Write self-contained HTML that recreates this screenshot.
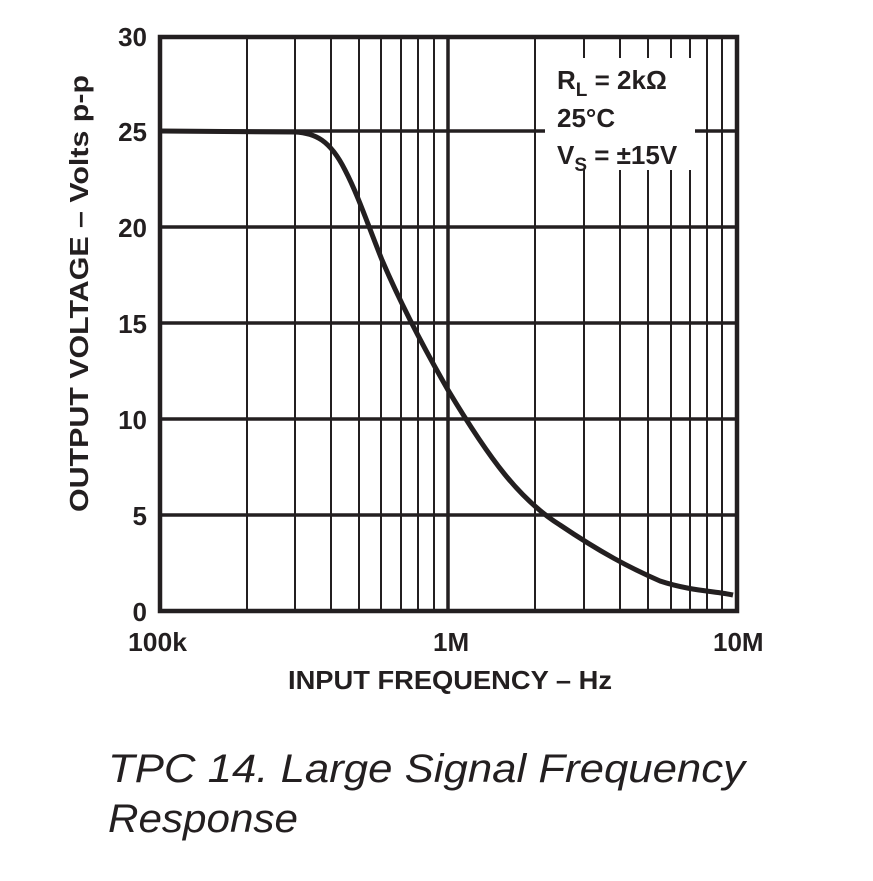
<!DOCTYPE html>
<html><head><style>
body{margin:0;background:#fff;}
svg{display:block;}
</style></head><body>
<svg width="873" height="881" viewBox="0 0 873 881" xmlns="http://www.w3.org/2000/svg">
<g stroke="#231f20" fill="none">
<g stroke-width="2">
<line x1="247" y1="36" x2="247" y2="611"/><line x1="295" y1="36" x2="295" y2="611"/>
<line x1="331" y1="36" x2="331" y2="611"/><line x1="359" y1="36" x2="359" y2="611"/>
<line x1="381" y1="36" x2="381" y2="611"/><line x1="401" y1="36" x2="401" y2="611"/>
<line x1="418" y1="36" x2="418" y2="611"/><line x1="434" y1="36" x2="434" y2="611"/>
<line x1="535" y1="36" x2="535" y2="611"/><line x1="584" y1="36" x2="584" y2="611"/>
<line x1="620" y1="36" x2="620" y2="611"/><line x1="648" y1="36" x2="648" y2="611"/>
<line x1="671" y1="36" x2="671" y2="611"/><line x1="690" y1="36" x2="690" y2="611"/>
<line x1="707" y1="36" x2="707" y2="611"/><line x1="722" y1="36" x2="722" y2="611"/>
</g>
<line x1="448" y1="36" x2="448" y2="611" stroke-width="3.5"/>
<g stroke-width="3.5">
<line x1="160" y1="131" x2="737" y2="131"/><line x1="160" y1="227" x2="737" y2="227"/>
<line x1="160" y1="323" x2="737" y2="323"/><line x1="160" y1="419" x2="737" y2="419"/>
<line x1="160" y1="515" x2="737" y2="515"/>
</g>
<rect x="545" y="58" width="150" height="112" fill="#fff" stroke="none"/>
<rect x="160" y="37" width="577" height="574" stroke-width="4.5"/>
<path d="M160,131 L295,132 C315,133 330,140 345,170 C358,195 368,225 382,260 C400,302 425,350 448,390 C490,460 520,500 560,525 C600,552 630,568 660,581 C690,591 715,591 733,595" stroke-width="5"/>
</g>
<g font-family="Liberation Sans, sans-serif" font-weight="bold" font-size="26" fill="#231f20">
<g text-anchor="end">
<text x="147" y="46">30</text><text x="147" y="141">25</text><text x="147" y="237">20</text>
<text x="147" y="333">15</text><text x="147" y="429">10</text><text x="147" y="525">5</text><text x="147" y="621">0</text>
</g>
<text x="128" y="651" textLength="59" lengthAdjust="spacingAndGlyphs">100k</text>
<text x="433" y="651">1M</text>
<text x="713" y="651">10M</text>
<text x="288" y="689" textLength="324" lengthAdjust="spacingAndGlyphs">INPUT FREQUENCY – Hz</text>
<text transform="translate(88,512) rotate(-90)" textLength="437" lengthAdjust="spacingAndGlyphs">OUTPUT VOLTAGE – Volts p-p</text>
<text x="557" y="89">R<tspan font-size="19" dy="7">L</tspan><tspan dy="-7"> = 2kΩ</tspan></text>
<text x="557" y="127">25°C</text>
<text x="557" y="164">V<tspan font-size="19" dy="7">S</tspan><tspan dy="-7"> = ±15V</tspan></text>
</g>
<g font-family="Liberation Sans, sans-serif" font-style="italic" font-size="40" fill="#231f20">
<text x="108" y="782" textLength="637" lengthAdjust="spacingAndGlyphs">TPC 14.  Large Signal Frequency</text>
<text x="108" y="832" textLength="190" lengthAdjust="spacingAndGlyphs">Response</text>
</g>
</svg>
</body></html>
